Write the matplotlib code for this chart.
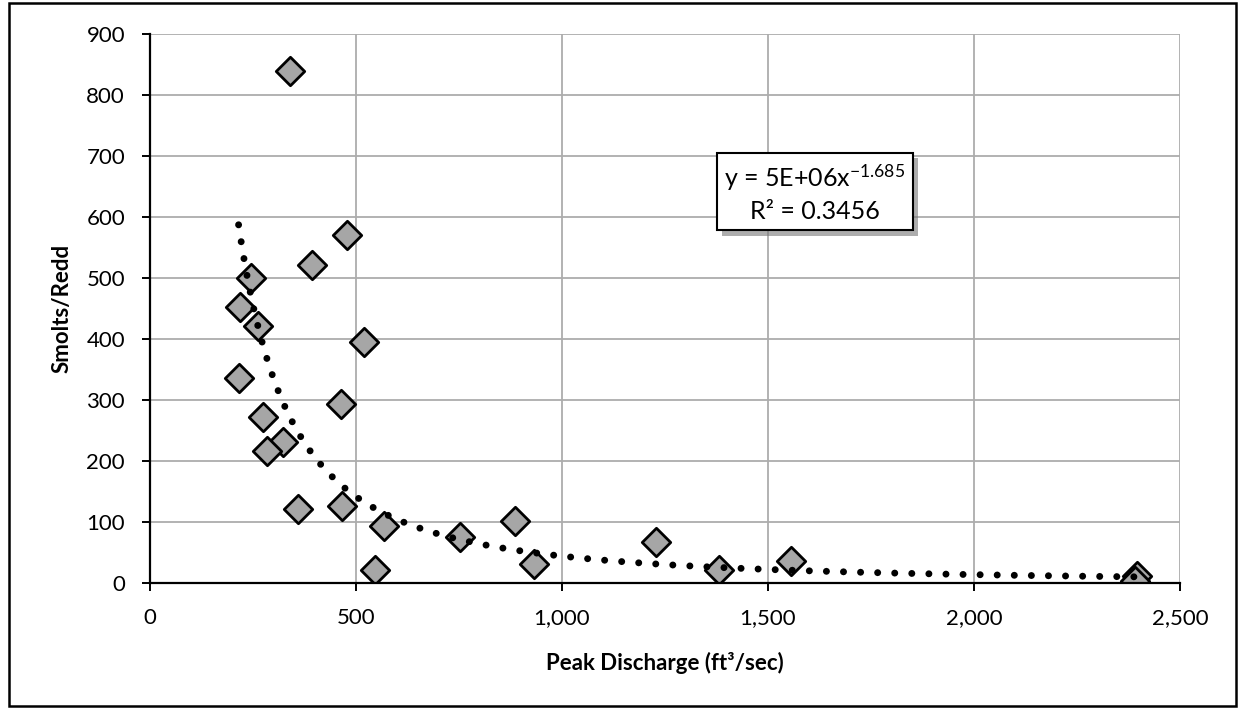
"""
Smolts per redd against peak discharge, with a power trendline.
"""

import numpy as np
import matplotlib.pyplot as plt
from matplotlib.ticker import FuncFormatter
from matplotlib.patches import Rectangle
import matplotlib.patheffects as pe

# peak discharge (ft3/sec) and smolts per redd
discharge = [340, 477, 393, 246, 219, 262, 520, 215, 463, 274, 322, 284,
             360, 466, 567, 546, 752, 886, 933, 1227, 1381, 1557, 2396, 2390]
smolts = [840, 570, 522, 500, 453, 421, 395, 336, 294, 272, 231, 216,
          121, 127, 94, 22, 76, 102, 31, 68, 21, 36, 12, 4]

# power fit y = a * x^b
fit_a = 5e6
fit_b = -1.685
fit_r2 = 0.3456

x_ticks = [0, 500, 1000, 1500, 2000, 2500]
y_ticks = [0, 100, 200, 300, 400, 500, 600, 700, 800, 900]


def main():
    plt.rcParams['font.family'] = ['Lato', 'DejaVu Sans']
    plt.rcParams['mathtext.fontset'] = 'custom'
    plt.rcParams['mathtext.rm'] = 'Lato'
    plt.rcParams['mathtext.it'] = 'Lato:italic'

    fig = plt.figure(figsize=(12.38, 7.08), dpi=100)
    ax = fig.add_axes([150 / 1238, 1 - 583 / 708, 1030 / 1238, 549 / 708])

    ax.scatter(discharge, smolts, marker='D', s=210, c='#a6a6a6',
               edgecolors='black', linewidths=2, zorder=3)

    xs = np.linspace(min(discharge), max(discharge), 600)
    ax.plot(xs, fit_a * xs ** fit_b, color='black', lw=5,
            linestyle=(0, (0.01, 2.45)), dash_capstyle='round', zorder=4)

    ax.set_xlim(0, 2500)
    ax.set_ylim(0, 900)
    ax.set_xticks(x_ticks)
    ax.set_yticks(y_ticks)
    ax.xaxis.set_major_formatter(FuncFormatter(lambda v, p: f'{v:,.0f}'))
    ax.grid(True, color='#adadad', lw=1.3, zorder=0)
    ax.set_axisbelow(True)
    for s in ['top', 'right']:
        ax.spines[s].set_visible(False)
    for s in ['left', 'bottom']:
        ax.spines[s].set_linewidth(1.6)
        ax.spines[s].set_zorder(5)
    ax.tick_params(direction='out', length=6, width=1.4, labelsize=16, pad=12)

    ax.set_xlabel('Peak Discharge (ft³/sec)', fontsize=16, fontweight='bold',
                  labelpad=17)
    ax.set_ylabel('Smolts/Redd', fontsize=16, fontweight='bold', labelpad=10)

    eq = ax.text(1613, 640, 'y = 5E+06x$^{-1.685}$\nR² = ' + f'{fit_r2}',
                 fontsize=18, ha='center', va='center', linespacing=1.35,
                 multialignment='center', zorder=6,
                 bbox=dict(boxstyle='square,pad=0.3', fc='white',
                           ec='black', lw=1.5))
    eq.get_bbox_patch().set_path_effects([
        pe.SimplePatchShadow(offset=(4, -4), shadow_rgbFace='#777777',
                             alpha=0.6),
        pe.Normal()])

    fig.patches.append(Rectangle((9 / 1238, 2 / 708), 1227 / 1238, 703 / 708,
                                 transform=fig.transFigure, fill=False,
                                 ec='black', lw=1.8))

    fig.savefig('out.png', dpi=100)


if __name__ == '__main__':
    main()
